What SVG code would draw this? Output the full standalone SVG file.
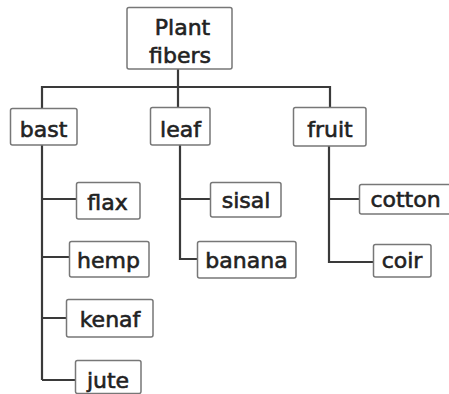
<svg xmlns="http://www.w3.org/2000/svg" width="449" height="394" viewBox="0 0 449 394">
<style>
.box{fill:#fff;stroke:#777;stroke-width:1.5}
.t{font-family:"DejaVu Sans",Verdana,sans-serif;font-size:22px;fill:#222;stroke:#222;stroke-width:0.6;text-anchor:middle}
.c{fill:none;stroke:#3a3a3a;stroke-width:2.2}
</style>
<rect width="449" height="394" fill="#fff"/>
<g id="connectors">
<path class="c" d="M178 69V107M42 87H330M42 86V108M330 86V107"/>
<path class="c" d="M42 145V380M42 199H76M42 257H69M42 318H66M42 380H75"/>
<path class="c" d="M180 145V259H197M180 199H210"/>
<path class="c" d="M329 146V262H373M329 199H359"/>
</g>
<g id="plant-fibers"><rect class="box" x="127" y="7.5" width="105" height="61.5" rx="2"/><text class="t" x="182.5" y="35">Plant</text><text class="t" x="180" y="62.5">fibers</text></g>
<g id="bast"><rect class="box" x="10.5" y="108.5" width="66.5" height="36.5" rx="2"/><text class="t" x="43.5" y="137">bast</text></g>
<g id="leaf"><rect class="box" x="150.5" y="107.5" width="59.5" height="37.5" rx="2"/><text class="t" x="180.5" y="137">leaf</text></g>
<g id="fruit"><rect class="box" x="293.5" y="107.5" width="72.5" height="38.5" rx="2"/><text class="t" x="330" y="137">fruit</text></g>
<g id="flax"><rect class="box" x="76.5" y="182.5" width="63.5" height="36.5" rx="2"/><text class="t" x="107.5" y="210">flax</text></g>
<g id="hemp"><rect class="box" x="69.5" y="241.5" width="79.5" height="35.5" rx="2"/><text class="t" x="108.5" y="268">hemp</text></g>
<g id="kenaf"><rect class="box" x="66.5" y="299.5" width="86.5" height="37.5" rx="2"/><text class="t" x="110" y="327">kenaf</text></g>
<g id="jute"><rect class="box" x="75.5" y="360.5" width="65.5" height="33" rx="2"/><text class="t" x="108" y="388">jute</text></g>
<g id="sisal"><rect class="box" x="210.5" y="182.5" width="70.5" height="34.5" rx="2"/><text class="t" x="246" y="208">sisal</text></g>
<g id="banana"><rect class="box" x="197.5" y="241.5" width="98.5" height="36.5" rx="2"/><text class="t" x="246.5" y="268">banana</text></g>
<g id="cotton"><rect class="box" x="359.5" y="184.5" width="95" height="29.5" rx="2"/><text class="t" x="405.5" y="207">cotton</text></g>
<g id="coir"><rect class="box" x="373.5" y="244.5" width="57.5" height="32.5" rx="2"/><text class="t" x="402" y="268">coir</text></g>
</svg>
